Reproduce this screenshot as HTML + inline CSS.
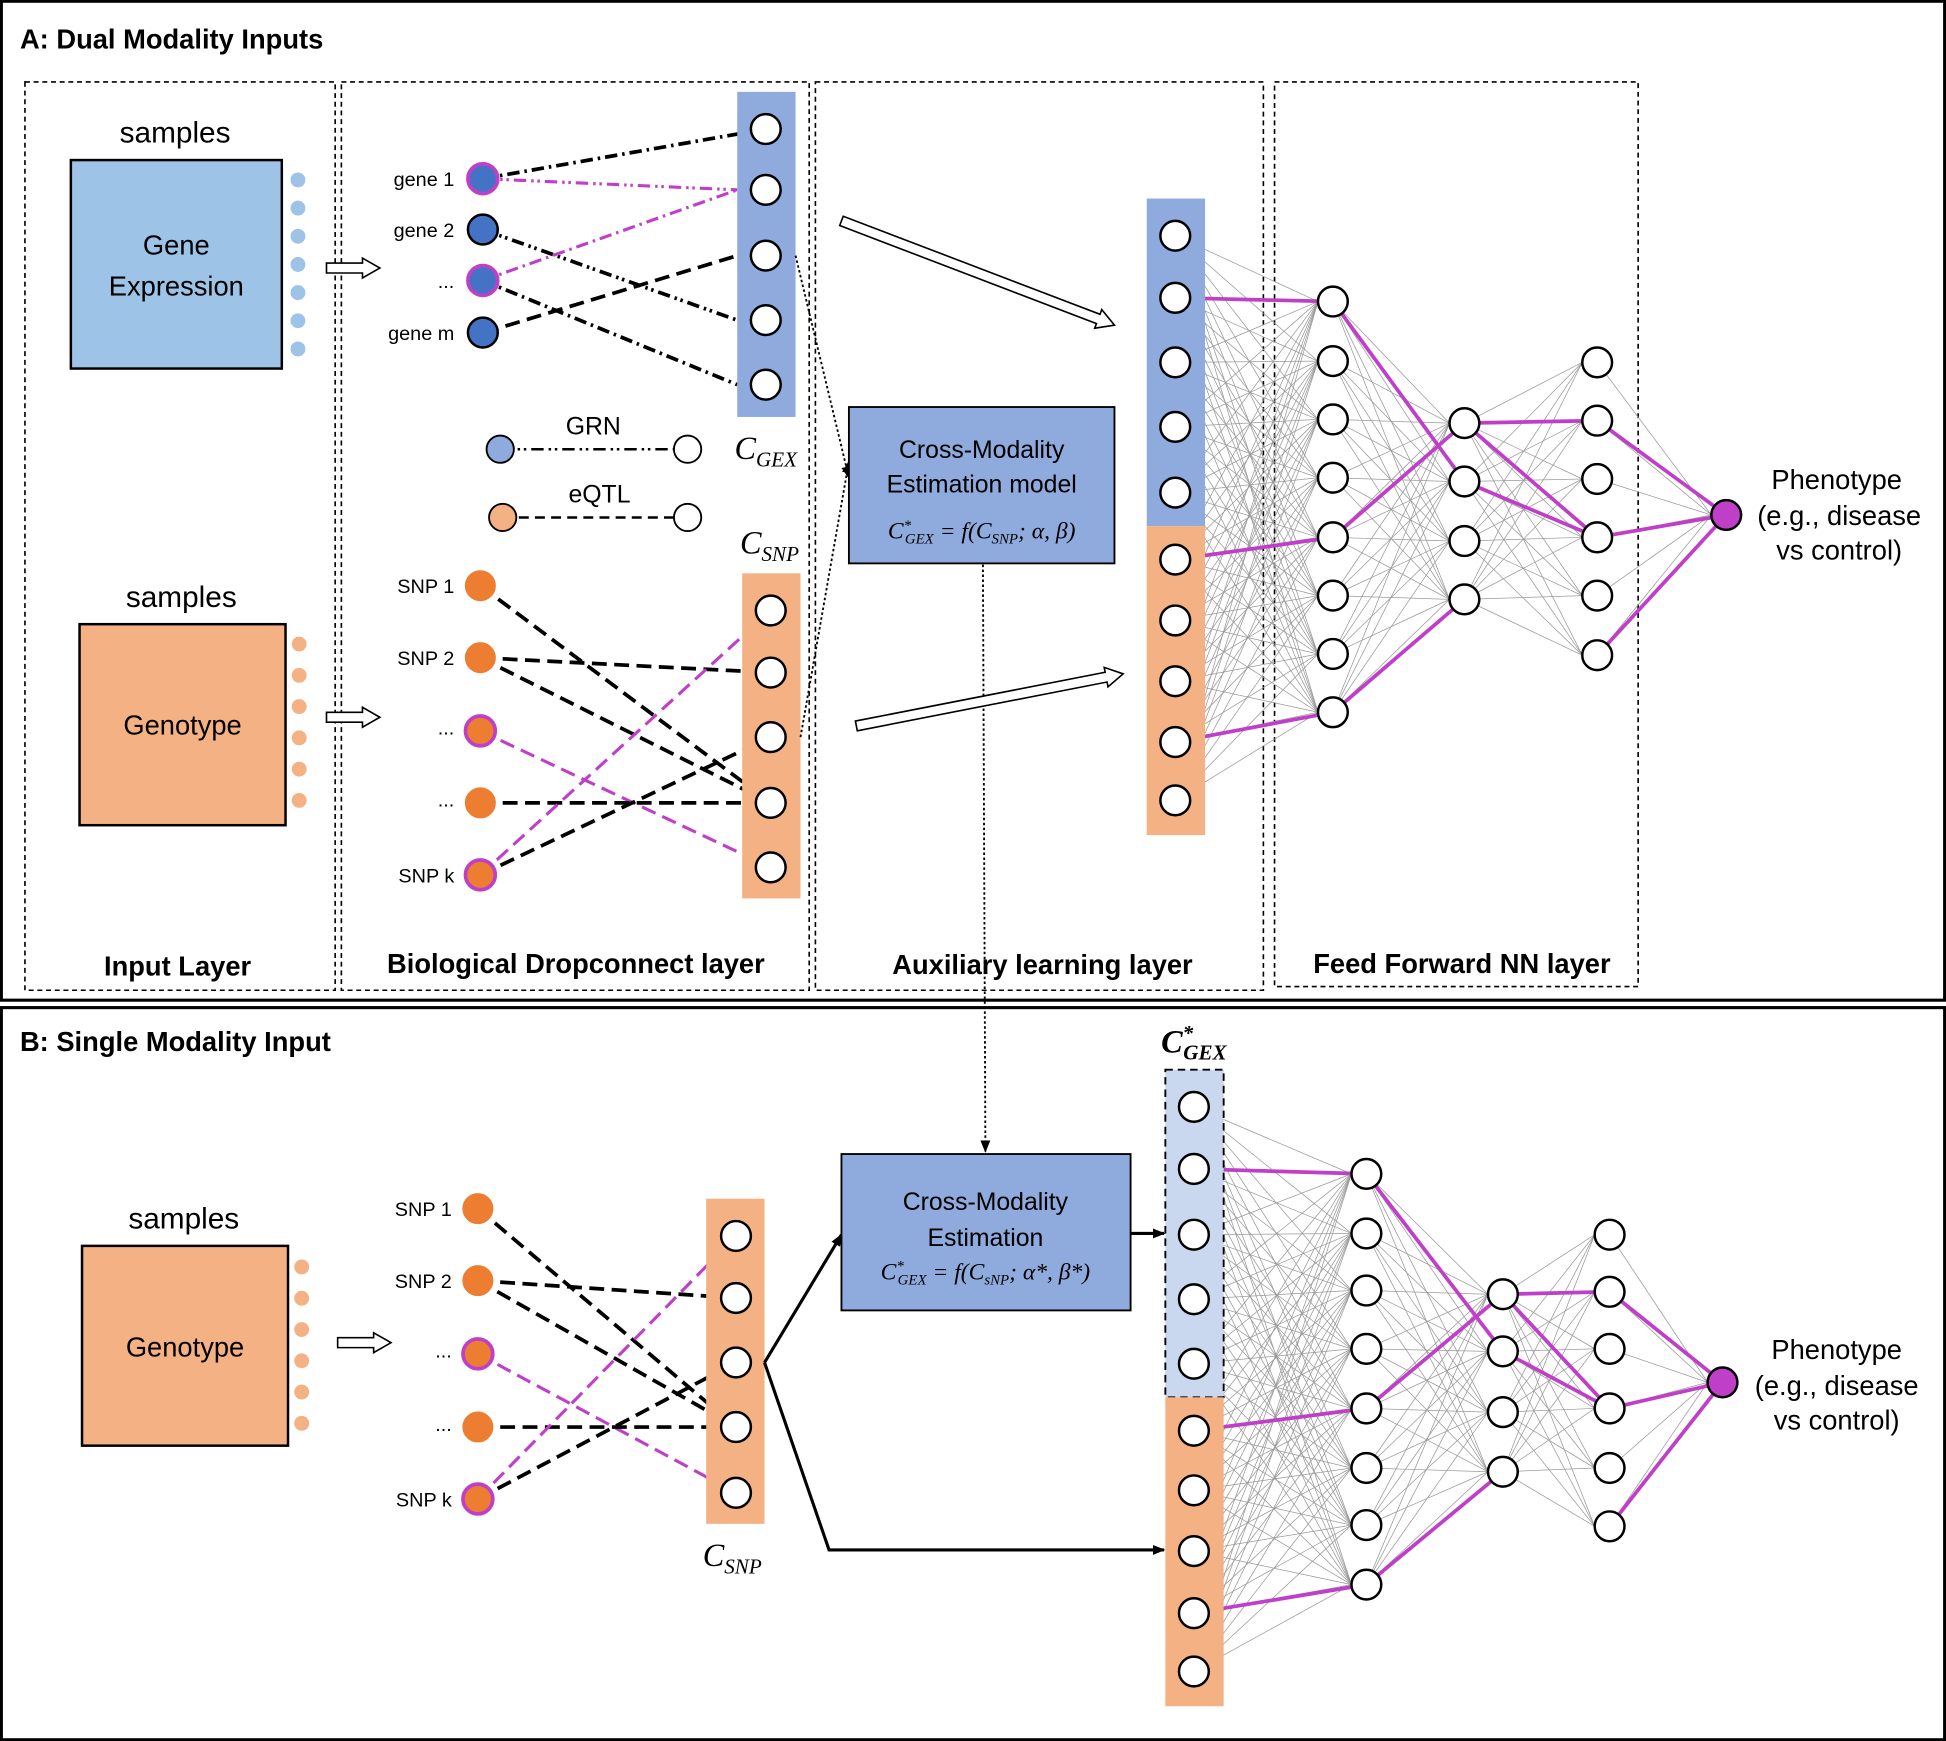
<!DOCTYPE html>
<html><head><meta charset="utf-8">
<style>
html,body{margin:0;padding:0;background:#fff;}
svg{display:block;}
text{font-family:"Liberation Sans",sans-serif;}
.m{font-family:"Liberation Serif",serif;font-style:italic;}
</style></head><body>
<svg id="s" width="1946" height="1741" viewBox="0 0 1568 1403" xmlns="http://www.w3.org/2000/svg">
<defs>
<marker id="ah" markerWidth="10" markerHeight="10" refX="9" refY="5" orient="auto" markerUnits="userSpaceOnUse"><path d="M0,1 L10,5 L0,9 z" fill="#000"/></marker>
</defs>
<rect x="1" y="1" width="1566" height="805" fill="none" stroke="#000" stroke-width="2.5"/>
<rect x="1" y="812" width="1566" height="590" fill="none" stroke="#000" stroke-width="2.5"/>
<text x="16" y="39" font-weight="bold" font-size="22">A: Dual Modality Inputs</text>
<text x="16" y="847" font-weight="bold" font-size="22">B: Single Modality Input</text>
<g fill="none" stroke="#000" stroke-width="1.3" stroke-dasharray="4,3">
<rect x="20" y="66" width="250" height="732"/>
<rect x="275" y="66" width="377" height="732"/>
<rect x="657" y="66" width="361" height="732"/>
<rect x="1027" y="66" width="293" height="729"/>
</g>
<g id="g"></g>
<g font-size="22" text-anchor="middle" font-weight="bold">
<text x="143" y="786">Input Layer</text>
<text x="464" y="784">Biological Dropconnect layer</text>
<text x="840" y="785">Auxiliary learning layer</text>
<text x="1178" y="784">Feed Forward NN layer</text>
</g>
<text x="617" y="370" class="m" font-size="26" text-anchor="middle">C<tspan font-size="17" dy="6">GEX</tspan></text>
<text x="620" y="446" class="m" font-size="26" text-anchor="middle">C<tspan font-size="17" dy="6">SNP</tspan></text>
<text x="590" y="1262" class="m" font-size="26" text-anchor="middle">C<tspan font-size="17" dy="6">SNP</tspan></text>
<text x="962" y="848" class="m" font-size="26" font-weight="bold" text-anchor="middle">C<tspan font-size="17" dy="-10">*</tspan><tspan font-size="17" dx="-8" dy="16">GEX</tspan></text>
<text x="791" y="434" class="m" font-size="19" text-anchor="middle">C<tspan font-size="12" dy="-7">*</tspan><tspan font-size="12" dx="-5" dy="11">GEX</tspan><tspan dy="-4"> = f(C</tspan><tspan font-size="12" dy="4">SNP</tspan><tspan dy="-4">; α, β)</tspan></text>
<text x="794" y="1031" class="m" font-size="19" text-anchor="middle">C<tspan font-size="12" dy="-7">*</tspan><tspan font-size="12" dx="-5" dy="11">GEX</tspan><tspan dy="-4"> = f(C</tspan><tspan font-size="12" dy="4">sNP</tspan><tspan dy="-4">; α*, β*)</tspan></text>
</svg>
<script>
const S=document.getElementById('g');const NS='http://www.w3.org/2000/svg';
function el(t,a,txt){const e=document.createElementNS(NS,t);for(const k in a)e.setAttribute(k,a[k]);if(txt!==undefined)e.textContent=txt;S.appendChild(e);return e;}
function line(x1,y1,x2,y2,c,w,d,m){const a={x1,y1,x2,y2,stroke:c,'stroke-width':w};if(d)a['stroke-dasharray']=d;if(m)a['marker-end']=m;el('line',a);}
function circ(x,y,r,f,s,w){el('circle',{cx:x,cy:y,r:r,fill:f,stroke:s||'#000','stroke-width':w||1.5});}
function text(x,y,t,sz,anc,extra){const a={x,y,'font-size':sz,'text-anchor':anc||'middle'};Object.assign(a,extra||{});el('text',a,t);}
function hollow(x1,y1,x2,y2){const dx=x2-x1,dy=y2-y1,L=Math.hypot(dx,dy),ux=dx/L,uy=dy/L,nx=-uy,ny=ux,h=14,hw=8,sw=4;
const bx=x2-ux*h,by=y2-uy*h;const p=[[x1+nx*sw,y1+ny*sw],[bx+nx*sw,by+ny*sw],[bx+nx*hw,by+ny*hw],[x2,y2],[bx-nx*hw,by-ny*hw],[bx-nx*sw,by-ny*sw],[x1-nx*sw,y1-ny*sw]];
el('polygon',{points:p.map(q=>q.join(',')).join(' '),fill:'#fff',stroke:'#000','stroke-width':1.3});}
const BL='#8FAADC',BLD='#4472C4',OR='#F4B183',ORD='#ED7D31',MG='#C03FC8',LB='#9DC3E6';
const DD='10,4,2,4',DDD='10,4,2,3,2,4',DA='12,6';
text(141,115,'samples',24);
el('rect',{x:57,y:129,width:170,height:168,fill:LB,stroke:'#000','stroke-width':2});
text(142,205,'Gene',22);text(142,238,'Expression',22);
for(let i=0;i<7;i++)circ(240,145+i*22.7,6,LB,'none',0);
hollow(263,216,306,216);
text(146,489,'samples',24);
el('rect',{x:64,y:503,width:166,height:162,fill:OR,stroke:'#000','stroke-width':2});
text(147,592,'Genotype',22);
for(let i=0;i<6;i++)circ(241,519+i*25.2,6,OR,'none',0);
hollow(263,578,306,578);
const CG=[104,153,206,258,310];
line(389,144,617,104,'#000',3,DD);line(389,144,594,153,MG,2.5,DDD);
line(389,185,594,258,'#000',3,DDD);line(389,226,594,153,MG,2.5,DD);
line(389,226,594,310,'#000',3,DD);line(390,268,594,206,'#000',3,DA);
el('rect',{x:594,y:74,width:47,height:262,fill:BL});
CG.forEach(y=>circ(617,y,12,'#fff','#000',2));
[[144,'gene 1',1],[185,'gene 2',0],[226,'...',1],[268,'gene m',0]].forEach(g=>{circ(389,g[0],12,BLD,g[2]?MG:'#000',g[2]?3:2);text(366,g[0]+6,g[1],16,'end');});
line(403,362,554,362,'#000',2,DDD);circ(403,362,11,BL,'#000',1.5);circ(554,362,11,'#fff','#000',1.5);text(478,350,'GRN',20);
line(405,417,554,417,'#000',2,'8,5');circ(405,417,11,OR,'#000',1.5);circ(554,417,11,'#fff','#000',1.5);text(483,405,'eQTL',20);
function snp(sx,ys,cx,cys,rect){
line(sx,ys[0],cx,cys[3],'#000',3,DA);line(sx,ys[1],cx,cys[1],'#000',3,DA);line(sx,ys[1],cx,cys[3],'#000',3,DA);
line(sx,ys[2],cx,cys[4],MG,2.5,DA);line(sx,ys[3],cx,cys[3],'#000',3,DA);line(sx,ys[4],cx,cys[0],MG,2.5,DA);line(sx,ys[4],cx,cys[2],'#000',3,DA);
el('rect',rect);cys.forEach(y=>circ(cx,y,12,'#fff','#000',2));
const lab=['SNP 1','SNP 2','...','...','SNP k'],mg=[0,0,1,0,1];
ys.forEach((y,i)=>{circ(sx,y,12,ORD,mg[i]?MG:ORD,mg[i]?3:1);text(sx-21,y+(i==2||i==3?3:6),lab[i],16,'end');});
}
snp(387,[472,530,589,647,705],621,[492,542,594,647,699],{x:598,y:462,width:47,height:262,fill:OR});
line(641,206,684,385,'#000',1.5,'2,2','url(#ah)');line(645,594,684,372,'#000',1.5,'2,2','url(#ah)');
el('rect',{x:684,y:328,width:214,height:126,fill:BL,stroke:'#000','stroke-width':1.5});
text(791,369,'Cross-Modality',20);text(791,397,'Estimation model',20);
line(792,455,794,928,'#000',1.5,'2,2','url(#ah)');
hollow(678,178,898,262);hollow(690,585,905,543);
function net(cx,col,l1x,l1,l2x,l2,l3x,l3,ox,oy,mag,topFill,dashed){
 const g='#999';
 col.forEach(a=>l1.forEach(b=>line(cx,a,l1x-12,b,g,0.6)));
 l1.forEach(a=>l2.forEach(b=>line(l1x,a,l2x-12,b,g,0.6)));
 l2.forEach(a=>l3.forEach(b=>line(l2x,a,l3x-12,b,g,0.6)));
 l3.forEach(a=>line(l3x,a,ox-12,oy,g,0.6));
 mag.forEach(m=>line(m[0],m[1],m[2],m[3],MG,3));
 const top=col[0]-30,mid=(col[4]+col[5])/2,bot=col[9]+28;
 const r={x:cx-23,y:top,width:47,height:mid-top,fill:topFill};if(dashed){r.stroke='#000';r['stroke-width']=1.5;r['stroke-dasharray']='6,4';}
 el('rect',r);el('rect',{x:cx-23,y:mid,width:47,height:bot-mid,fill:OR});
 col.forEach(y=>circ(cx,y,12,'#fff','#000',2));
 l1.forEach(y=>circ(l1x,y,12,'#fff','#000',2));l2.forEach(y=>circ(l2x,y,12,'#fff','#000',2));l3.forEach(y=>circ(l3x,y,12,'#fff','#000',2));
 circ(ox,oy,12,MG,'#000',2);
}
{const col=[190,240,292,344,397,451,500,549,598,645],l1=[243,291,338,385,433,480,527,574],l2=[341,388,436,483],l3=[292,339,386,433,480,528];
const X=947,A=1074,B=1180,C=1287,O=1391,OY=415;
net(X,col,A,l1,B,l2,C,l3,O,OY,[[X,240,A,243],[X,451,A,433],[X,598,A,574],[A,243,B,388],[A,433,B,341],[A,574,B,483],[B,341,C,339],[B,341,C,433],[B,388,C,433],[C,339,O,OY],[C,433,O,OY],[C,528,O,OY]],BL,false);
text(1480,394,'Phenotype',22);text(1482,423,'(e.g., disease',22);text(1482,451,'vs control)',22);}
text(148,990,'samples',24);
el('rect',{x:66,y:1004,width:166,height:161,fill:OR,stroke:'#000','stroke-width':2});
text(149,1093,'Genotype',22);
for(let i=0;i<6;i++)circ(243,1021+i*25.2,6,OR,'none',0);
hollow(272,1082,315,1082);
snp(385,[974,1032,1091,1150,1208],593,[996,1046,1098,1150,1203],{x:569,y:966,width:47,height:262,fill:OR});
line(616,1098,678,995,'#000',2.5,null,'url(#ah)');
el('polyline',{points:'616,1098 668,1249 938,1249',fill:'none',stroke:'#000','stroke-width':2.5,'marker-end':'url(#ah)'});
el('rect',{x:678,y:930,width:233,height:126,fill:BL,stroke:'#000','stroke-width':1.5});
text(794,975,'Cross-Modality',20);text(794,1004,'Estimation',20);
line(911,994,938,994,'#000',2.5,null,'url(#ah)');
{const col=[892,942,995,1047,1099,1153,1201,1250,1300,1347],l1=[946,994,1040,1087,1135,1183,1229,1277],l2=[1043,1089,1138,1186],l3=[995,1041,1087,1135,1183,1230];
const X=962,A=1101,B=1211,C=1297,O=1388,OY=1114;
net(X,col,A,l1,B,l2,C,l3,O,OY,[[X,942,A,946],[X,1153,A,1135],[X,1300,A,1277],[A,946,B,1089],[A,1135,B,1043],[A,1277,B,1186],[B,1043,C,1041],[B,1043,C,1135],[B,1089,C,1135],[C,1041,O,OY],[C,1135,O,OY],[C,1230,O,OY]],'#C9D7EF',true);
text(1480,1095,'Phenotype',22);text(1480,1124,'(e.g., disease',22);text(1480,1152,'vs control)',22);}
</script>
</body></html>
